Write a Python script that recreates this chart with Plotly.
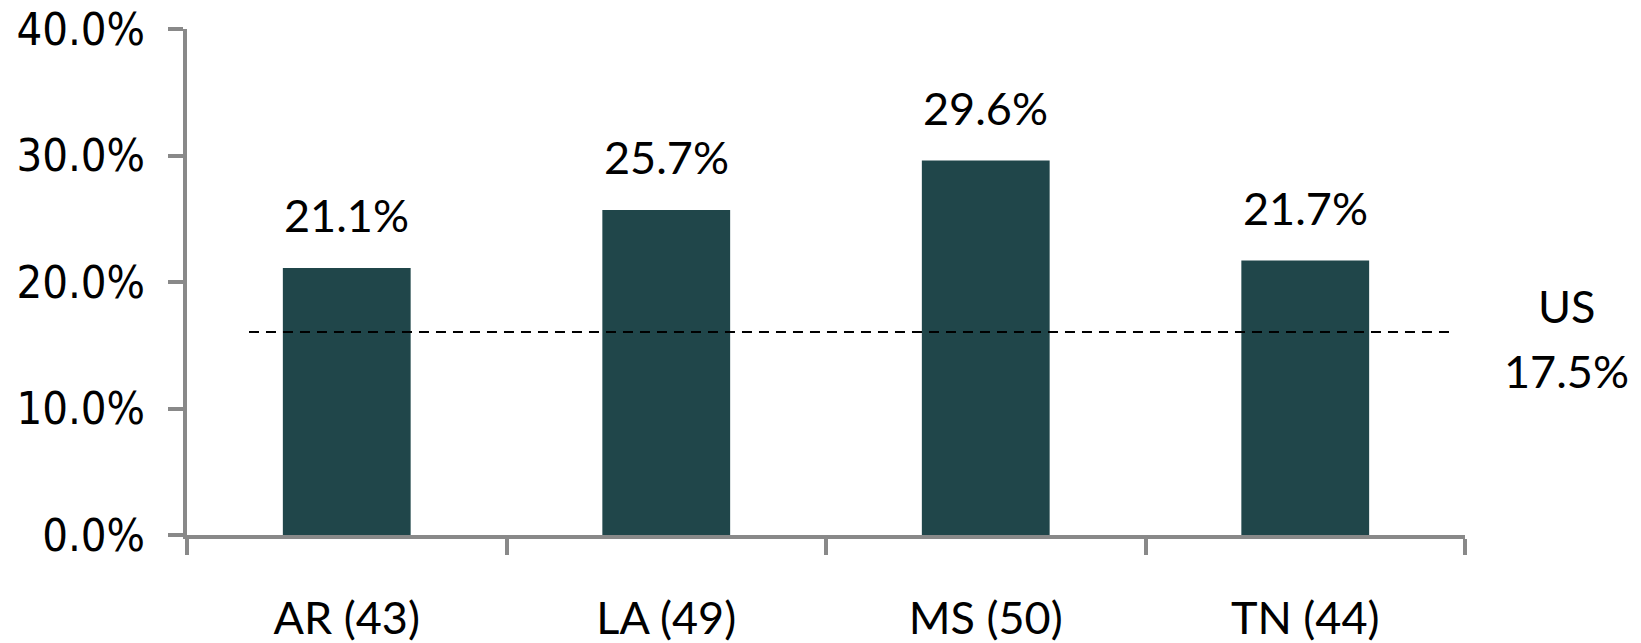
import plotly.graph_objects as go

categories = ["AR (43)", "LA (49)", "MS (50)", "TN (44)"]
values = [21.1, 25.7, 29.6, 21.7]
value_labels = ["21.1%", "25.7%", "29.6%", "21.7%"]
y_tickvals = [0, 10, 20, 30, 40]
y_ticktext = ["0.0%", "10.0%", "20.0%", "30.0%", "40.0%"]
us_line_value = 16.05
us_label_name = "US"
us_label_value = "17.5%"

bar_color = "#20464A"
axis_color = "#898989"
label_font = dict(family="Lato, Open Sans, sans-serif", size=45, color="black")
tick_font = dict(family="DejaVu Sans Condensed, DejaVu Sans, sans-serif", size=45, color="black")

fig = go.Figure()
fig.add_trace(go.Bar(
    x=categories, y=values, marker=dict(color=bar_color, line=dict(width=0)),
    width=0.4, hoverinfo="skip",
))

for c, v, t in zip(categories, values, value_labels):
    fig.add_annotation(x=c, y=v, text=t, showarrow=False, xanchor="center",
                       yanchor="bottom", yshift=24, font=label_font)

fig.add_shape(type="line", xref="paper", yref="y", x0=0.0485, x1=0.9906,
              y0=us_line_value, y1=us_line_value, layer="above",
              line=dict(color="black", width=2, dash="10px,7px"))

fig.add_annotation(xref="paper", yref="y", x=1.0798, y=us_line_value, yshift=26,
                   text=us_label_name, showarrow=False, xanchor="center", yanchor="middle",
                   font=label_font)
fig.add_annotation(xref="paper", yref="y", x=1.0798, y=us_line_value, yshift=-39,
                   text=us_label_value, showarrow=False, xanchor="center", yanchor="middle",
                   font=label_font)

fig.update_layout(
    width=1641, height=643,
    margin=dict(l=187, r=176, t=29, b=108, autoexpand=False),
    plot_bgcolor="white", paper_bgcolor="white",
    showlegend=False,
)
fig.update_xaxes(
    type="category", range=[-0.5, 3.5], automargin=False,
    showline=True, linecolor=axis_color, linewidth=4,
    ticks="outside", tickson="boundaries", ticklen=16, tickwidth=4, tickcolor=axis_color,
    tickfont=label_font, ticklabelstandoff=41, showgrid=False, zeroline=False,
)
fig.update_yaxes(
    range=[0, 40], tickvals=y_tickvals, ticktext=y_ticktext, automargin=False,
    showline=True, linecolor=axis_color, linewidth=4,
    ticks="outside", ticklen=15, tickwidth=4, tickcolor=axis_color,
    tickfont=tick_font, ticklabelstandoff=14, showgrid=False, zeroline=False,
)

fig.write_html("out.html", config={"displayModeBar": False},
               post_script="document.body.style.margin='0';document.body.style.overflow='hidden';")
